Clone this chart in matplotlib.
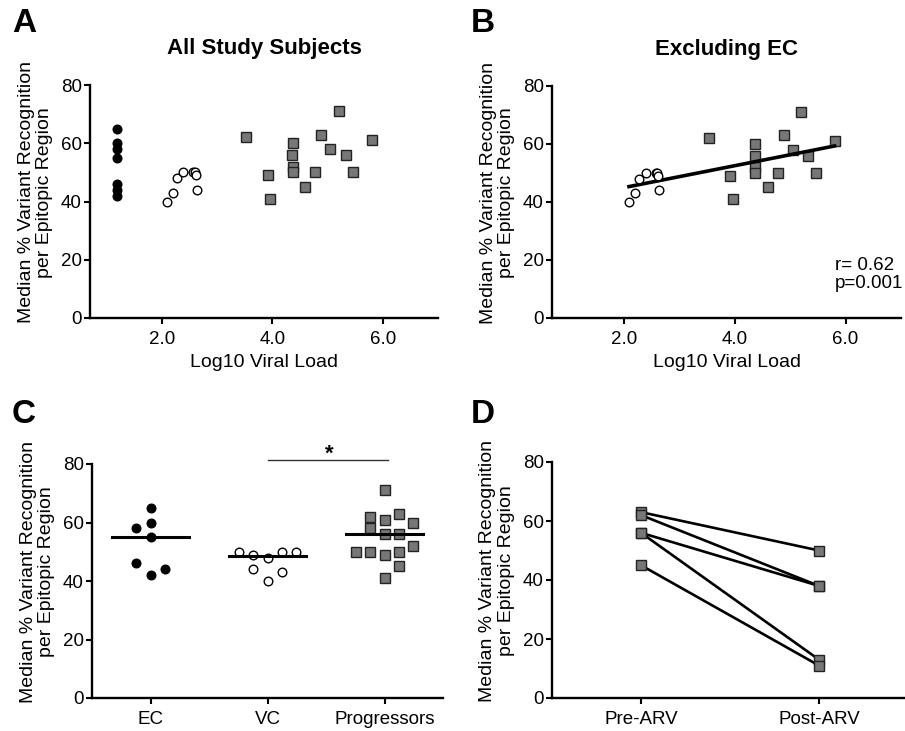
import numpy as np
import matplotlib
matplotlib.use("Agg")
import matplotlib.pyplot as plt

plt.rcParams['font.family'] = ['Liberation Sans', 'DejaVu Sans']

# viral load (log10) and median % variant recognition per group
ec_vl = [1.18, 1.18, 1.18, 1.18, 1.18, 1.18, 1.18]
ec_val = [65, 60, 58, 55, 46, 44, 42]

vc_vl = [2.09, 2.20, 2.27, 2.39, 2.57, 2.60, 2.62, 2.63]
vc_val = [40, 43, 48, 50, 50, 50, 49, 44]

prog_vl = [3.53, 3.92, 3.96, 4.37, 4.36, 4.37, 4.37, 4.60, 4.78, 4.88, 5.05, 5.20, 5.33, 5.47, 5.80]
prog_val = [62, 49, 41, 60, 56, 52, 50, 45, 50, 63, 58, 71, 56, 50, 61]

# panel C (grouped), same values
groups = ['EC', 'VC', 'Progressors']

# panel D: paired pre / post ARV
pair_labels = ['Pre-ARV', 'Post-ARV']
pre_arv = [63, 62, 56, 56, 45]
post_arv = [50, 38, 38, 13, 11]

stat_r = '0.62'
stat_p = '0.001'

# horizontal scatter offsets for the column plot
ec_dx = [0, 0, -0.12, 0, -0.12, 0.12, 0]
vc_dx = [0, 0.12, 0, -0.24, 0.12, 0.24, -0.12, -0.12]
prog_dx = [-0.12, 0, 0, 0.24, 0, 0.24, -0.24, 0.12, -0.12, 0.12, -0.12, 0, 0.12, 0.12, 0]

W, H = 905, 731
fig = plt.figure(figsize=(W / 100, H / 100), dpi=100)


def box(l, r, top, bot):
    return [l / W, 1 - bot / H, (r - l) / W, (bot - top) / H]


ax_a = fig.add_axes(box(90, 438, 85, 318))
ax_b = fig.add_axes(box(552, 901, 86, 318))
ax_c = fig.add_axes(box(92, 443, 464, 698))
ax_d = fig.add_axes(box(552, 908, 462, 698))

sq = dict(marker='s', ms=6.8, mfc='#777777', mec='#222222', mew=1.0, ls='none')
dot = dict(marker='o', ms=6.2, mfc='black', mec='black', ls='none')
ring = dict(marker='o', ms=6.2, mfc='white', mec='black', mew=1.0, ls='none')

ylab = 'Median % Variant Recognition\nper Epitopic Region'


def style(ax):
    for s in ['top', 'right']:
        ax.spines[s].set_visible(False)
    for s in ['left', 'bottom']:
        ax.spines[s].set_linewidth(1.7)
    ax.set_ylim(0, 80)
    ax.set_yticks([0, 20, 40, 60, 80])
    ax.tick_params(width=1.5, length=4, labelsize=13.5)
    ax.tick_params(axis='y', pad=2)
    ax.tick_params(axis='x', pad=5)
    ax.set_ylabel(ylab, fontsize=14, linespacing=1.1)
    ax.yaxis.set_label_coords(-0.105, 0.54)


# A: all subjects
ax_a.plot(ec_vl, ec_val, **dot)
ax_a.plot(vc_vl, vc_val, **ring)
ax_a.plot(prog_vl, prog_val, **sq)
ax_a.set_xlim(0.7, 7)
ax_a.set_xticks([2, 4, 6])
ax_a.set_xticklabels(['2.0', '4.0', '6.0'])
style(ax_a)
ax_a.set_xlabel('Log10 Viral Load', fontsize=14, labelpad=5)
ax_a.set_title('All Study Subjects', fontsize=16, fontweight='bold', pad=22)

# B: excluding EC, with linear fit
bx = np.array(vc_vl + prog_vl)
by = np.array(vc_val + prog_val)
k, b0 = np.polyfit(bx, by, 1)
xs = np.array([bx.min(), bx.max()])
ax_b.plot(xs, k * xs + b0, color='black', lw=2.6, zorder=3)
ax_b.plot(vc_vl, vc_val, zorder=4, **ring)
ax_b.plot(prog_vl, prog_val, zorder=2, **sq)
ax_b.set_xlim(0.7, 7)
ax_b.set_xticks([2, 4, 6])
ax_b.set_xticklabels(['2.0', '4.0', '6.0'])
style(ax_b)
ax_b.set_xlabel('Log10 Viral Load', fontsize=14, labelpad=5)
ax_b.set_title('Excluding EC', fontsize=16, fontweight='bold', pad=22)
ax_b.text(5.8, 15, 'r= ' + stat_r + '\np=' + stat_p, fontsize=13.5,
          va='center', ha='left', linespacing=1.15, clip_on=False)

# C: columns with medians
sets = [(ec_val, ec_dx, dot), (vc_val, vc_dx, ring), (prog_val, prog_dx, sq)]
for i, (vals, dx, mk) in enumerate(sets):
    ax_c.plot(np.array(dx) + i, vals, zorder=3, **mk)
    m = np.median(vals)
    ax_c.plot([i - 0.33, i + 0.33], [m, m], color='black', lw=2.2, zorder=4)
ax_c.set_xlim(-0.5, 2.5)
ax_c.set_xticks(range(len(groups)))
ax_c.set_xticklabels(groups)
style(ax_c)
ax_c.plot([1, 2.03], [81.2, 81.2], color='#333333', lw=1.0, clip_on=False)
ax_c.text(1.53, 83.5, '*', fontsize=16, fontweight='bold', ha='center', va='center')

# D: paired pre/post
for a, p in zip(pre_arv, post_arv):
    ax_d.plot([0, 1], [a, p], color='black', lw=1.9, zorder=2)
ax_d.plot([0] * len(pre_arv), pre_arv, zorder=3, **sq)
ax_d.plot([1] * len(post_arv), post_arv, zorder=3, **sq)
ax_d.set_xlim(-0.5, 1.5)
ax_d.set_xticks([0, 1])
ax_d.set_xticklabels(pair_labels)
style(ax_d)

# panel letters
for lab, x, y in [('A', 12, 23), ('B', 471, 23), ('C', 12, 415), ('D', 471, 415)]:
    fig.text(x / W, 1 - y / H, lab, fontsize=24, fontweight='bold', va='center', ha='left')

fig.savefig('out.png', dpi=100)
